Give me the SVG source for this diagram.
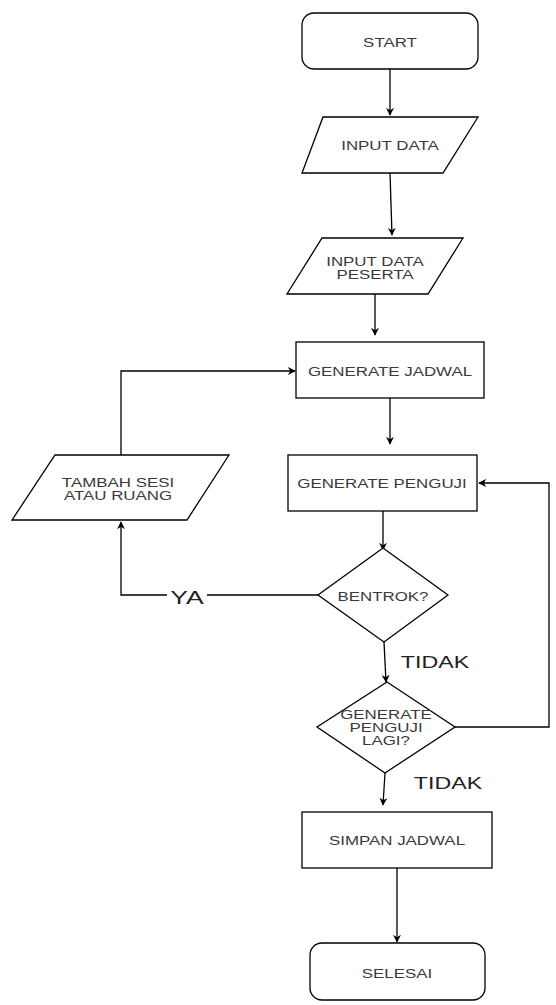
<svg xmlns="http://www.w3.org/2000/svg" width="556" height="1005" viewBox="0 0 556 1005">
<style>
.s{fill:#fff;stroke:#000;stroke-width:1.3}
.t{font-family:"Liberation Sans",Arial,sans-serif;font-size:13px;fill:#3a3a3a;text-anchor:middle;dominant-baseline:central}
.c{fill:none;stroke:#000;stroke-width:1.3}
.l{font-family:"Liberation Sans",Arial,sans-serif;fill:#222;dominant-baseline:central;text-anchor:middle}
</style>
<defs>
<marker id="a" viewBox="0 0 10 10" refX="9" refY="5" markerWidth="8" markerHeight="8" markerUnits="userSpaceOnUse" orient="auto">
<path d="M0,0 L10,5 L0,10 L3,5 Z" fill="#000"/>
</marker>
</defs>
<rect width="556" height="1005" fill="#fff"/>
<g id="connectors">
<path class="c" d="M390,69 L390,115" marker-end="url(#a)"/>
<path class="c" d="M390,173 L392,235" marker-end="url(#a)"/>
<path class="c" d="M375,294 L375,335" marker-end="url(#a)"/>
<path class="c" d="M390,398 L390,444" marker-end="url(#a)"/>
<path class="c" d="M383,511 L383,550" marker-end="url(#a)"/>
<path class="c" d="M318,595 L121,595 L121,522" marker-end="url(#a)"/>
<path class="c" d="M121,455 L121,371 L295,371" marker-end="url(#a)"/>
<path class="c" d="M384,642 L386,682" marker-end="url(#a)"/>
<path class="c" d="M455,727 L549,727 L549,483 L479,483" marker-end="url(#a)"/>
<path class="c" d="M385,773 L383,805" marker-end="url(#a)"/>
<path class="c" d="M397,868 L397,942" marker-end="url(#a)"/>
<rect x="167" y="584" width="40" height="22" fill="#fff"/>
<text class="l" font-size="19" transform="translate(187,597) scale(1.4,1)">YA</text>
<text class="l" font-size="16" transform="translate(435,662) scale(1.45,1)">TIDAK</text>
<text class="l" font-size="16" transform="translate(448,783) scale(1.45,1)">TIDAK</text>
</g>
<g id="start">
<rect class="s" x="302" y="13" width="176" height="56" rx="12"/>
<text class="t" transform="translate(390,42) scale(1.3,1)">START</text>
</g>
<g id="input-data">
<polygon class="s" points="323,117 478,117 443,173 302,173"/>
<text class="t" transform="translate(390,145) scale(1.3,1)">INPUT DATA</text>
</g>
<g id="input-data-peserta">
<polygon class="s" points="322,238 463,238 428,294 287,294"/>
<text class="t" transform="translate(375,261) scale(1.3,1)">INPUT DATA</text>
<text class="t" transform="translate(375,274) scale(1.3,1)">PESERTA</text>
</g>
<g id="generate-jadwal">
<rect class="s" x="296" y="342" width="188" height="56"/>
<text class="t" transform="translate(390,371) scale(1.3,1)">GENERATE JADWAL</text>
</g>
<g id="generate-penguji">
<rect class="s" x="288" y="455" width="189" height="56"/>
<text class="t" transform="translate(382,483) scale(1.3,1)">GENERATE PENGUJI</text>
</g>
<g id="tambah-sesi">
<polygon class="s" points="55,455 229,455 187,520 12,520"/>
<text class="t" transform="translate(118,482) scale(1.3,1)">TAMBAH SESI</text>
<text class="t" transform="translate(118,495) scale(1.3,1)">ATAU RUANG</text>
</g>
<g id="bentrok">
<polygon class="s" points="383,548 448,595 384,642 318,595"/>
<text class="t" transform="translate(383,596) scale(1.3,1)">BENTROK?</text>
</g>
<g id="generate-lagi">
<polygon class="s" points="387,682 455,727 385,773 317,727"/>
<text class="t" transform="translate(386,714) scale(1.3,1)">GENERATE</text>
<text class="t" transform="translate(386,727) scale(1.3,1)">PENGUJI</text>
<text class="t" transform="translate(386,740) scale(1.3,1)">LAGI?</text>
</g>
<g id="simpan-jadwal">
<rect class="s" x="302" y="812" width="190" height="56"/>
<text class="t" transform="translate(397,840) scale(1.3,1)">SIMPAN JADWAL</text>
</g>
<g id="selesai">
<rect class="s" x="310" y="943" width="175" height="57" rx="12"/>
<text class="t" transform="translate(397,973) scale(1.3,1)">SELESAI</text>
</g>
</svg>
